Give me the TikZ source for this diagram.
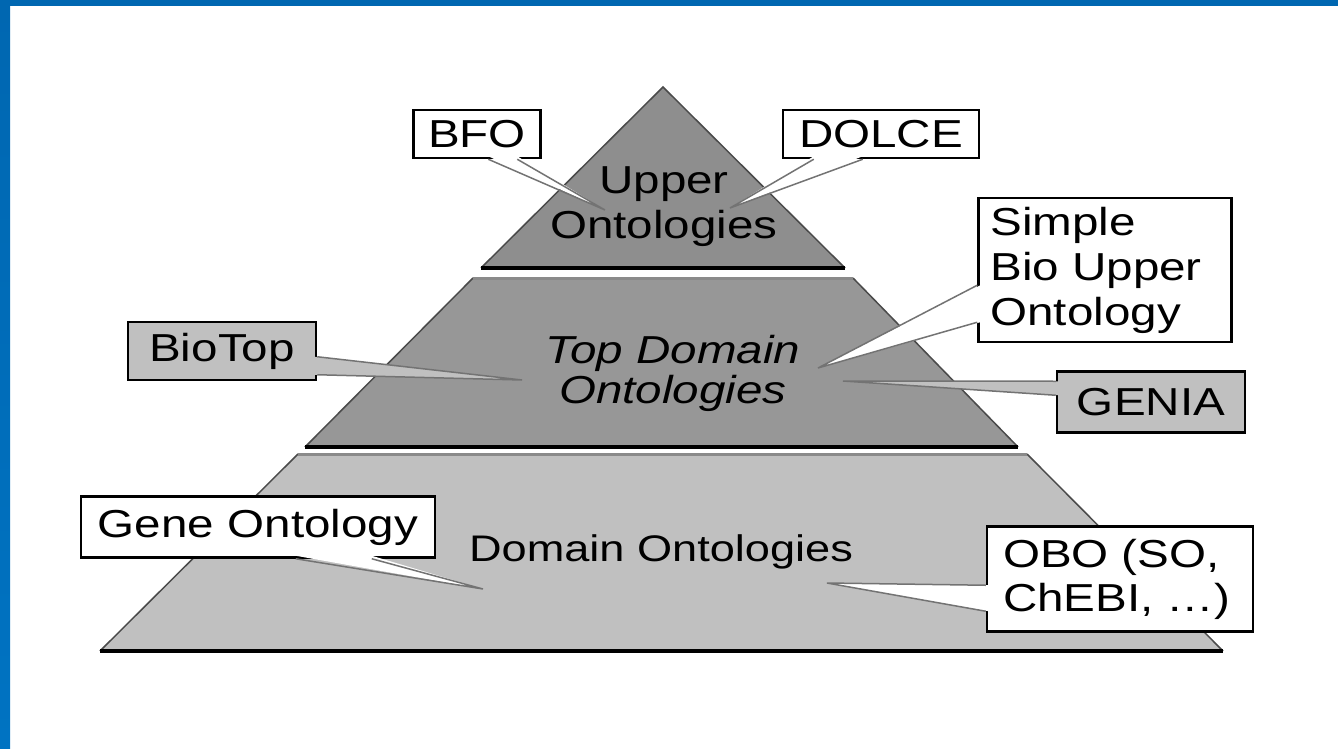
\documentclass[tikz,border=0pt]{standalone}
\usepackage{fontspec}
\setmainfont{Liberation Sans}[FakeStretch=1.22]
\usetikzlibrary{calc}

\definecolor{slideblue}{HTML}{0067B1}
\definecolor{slidebluelow}{HTML}{0073C2}
\definecolor{uppergray}{HTML}{8E8E8E}
\definecolor{midgray}{HTML}{979797}
\definecolor{lowgray}{HTML}{C0C0C0}
\definecolor{edgegray}{HTML}{4A4A4A}
\definecolor{rimgray}{HTML}{8A8A8A}

\tikzset{
  side/.style={draw=edgegray, line width=1.5pt},
  rim/.style={draw=rimgray, line width=3pt},
  tierbase/.style={draw=black, line width=3.5pt},
  tiertext/.style={inner sep=0pt, align=center, font=\fontsize{39}{45}\selectfont},
  onto/.style={draw=black, line width=2.5pt, fill=white, inner sep=0pt,
    font=\fontsize{39}{44}\selectfont},
  ontogray/.style={onto, fill=lowgray},
  calloutedge/.style={draw=gray!90!black, line width=1.5pt},
}

\begin{document}
\begin{tikzpicture}[x=1pt,y=-1pt]
\useasboundingbox (0,0) rectangle (1338,749);

% slide frame
\fill[slideblue] (0,0) rectangle (1338,6);
\shade[top color=slideblue, bottom color=slidebluelow] (0,0) rectangle (10,749);

% bottom tier
\fill[lowgray] (298,454) -- (1027,454) -- (1223,651) -- (100,651) -- cycle;
\draw[side] (298,454) -- (100,651) (1027,454) -- (1223,651);
\draw[rim] (298,454) -- (1027,454);
\draw[tierbase] (100,651) -- (1223,651);

% middle tier
\fill[midgray] (473,278) -- (853,278) -- (1018,447) -- (305,447) -- cycle;
\draw[side] (473,278) -- (305,447) (853,278) -- (1018,447);
\draw[rim] (473,278) -- (853,278);
\draw[tierbase] (305,447) -- (1018,447);

% top tier
\fill[uppergray] (663,87) -- (845,268) -- (481,268) -- cycle;
\draw[side] (481,268) -- (663,87) -- (845,268);
\draw[tierbase] (481,268) -- (845,268);

% label boxes
\node[onto, minimum width=127pt, minimum height=48pt] (bfo) at (477,134) {BFO};
\node[onto, minimum width=196pt, minimum height=48pt] (dolce) at (881,134) {DOLCE};
\node[onto, minimum width=253pt, minimum height=144pt, text width=229pt,
  align=left, font=\fontsize{39}{45}\selectfont] (simple) at (1105,270)
  {Simple\\Bio Upper\\Ontology};
\node[ontogray, minimum width=188pt, minimum height=58pt] (biotop) at (222,351) {BioTop};
\node[ontogray, minimum width=188pt, minimum height=61pt] (genia) at (1151,402) {GENIA};
\node[onto, minimum width=354pt, minimum height=61pt] (gene) at (258,527) {Gene Ontology};
\node[onto, minimum width=266pt, minimum height=105pt, text width=234pt,
  align=left] (obo) at (1120,579) {OBO (SO,\\ChEBI, \dots)};

% callout tips
\coordinate (bfotip) at (605,210);
\coordinate (dolcetip) at (730,208);
\coordinate (simpletip) at (818,368);
\coordinate (biotoptip) at (522,380);
\coordinate (geniatip) at (843,381);
\coordinate (genetip) at (483,589);
\coordinate (obotip) at (827,583);

% callouts
\fill[white] ($(bfo.south west)+(76,-3)$) -- (bfotip) -- ($(bfo.south west)+(105,-3)$) -- cycle;
\draw[calloutedge] ($(bfo.south west)+(76,0)$) -- (bfotip) -- ($(bfo.south west)+(105,0)$);
\fill[white] ($(dolce.south west)+(32,-3)$) -- (dolcetip) -- ($(dolce.south west)+(81,-3)$) -- cycle;
\draw[calloutedge] ($(dolce.south west)+(32,0)$) -- (dolcetip) -- ($(dolce.south west)+(81,0)$);
\fill[white] ($(simple.south west)+(3,-58)$) -- (simpletip) -- ($(simple.south west)+(3,-21)$) -- cycle;
\draw[calloutedge] ($(simple.south west)+(0,-58)$) -- (simpletip) -- ($(simple.south west)+(0,-21)$);
\fill[lowgray] ($(biotop.north east)+(-3,36)$) -- (biotoptip) -- ($(biotop.north east)+(-3,54)$) -- cycle;
\draw[calloutedge] ($(biotop.north east)+(0,36)$) -- (biotoptip) -- ($(biotop.north east)+(0,54)$);
\fill[lowgray] ($(genia.north west)+(3,11)$) -- (geniatip) -- ($(genia.north west)+(3,25)$) -- cycle;
\draw[calloutedge] ($(genia.north west)+(0,11)$) -- (geniatip) -- ($(genia.north west)+(0,25)$);
\fill[white] ($(gene.south west)+(216,-3)$) -- (genetip) -- ($(gene.south west)+(292,-3)$) -- cycle;
\draw[calloutedge] ($(gene.south west)+(216,0)$) -- (genetip) -- ($(gene.south west)+(292,0)$);
\fill[white] ($(obo.north west)+(3,60)$) -- (obotip) -- ($(obo.north west)+(3,86)$) -- cycle;
\draw[calloutedge] ($(obo.north west)+(0,60)$) -- (obotip) -- ($(obo.north west)+(0,86)$);

% tier names
\node[tiertext] (upper) at (664,207) {Upper\\Ontologies};
\node[tiertext, font=\fontsize{39}{40}\selectfont\itshape] (topdomain) at (673,373) {Top Domain\\Ontologies};
\node[tiertext, font=\fontsize{37}{40}\selectfont] (domain) at (661,552) {Domain Ontologies};
\end{tikzpicture}
\end{document}
